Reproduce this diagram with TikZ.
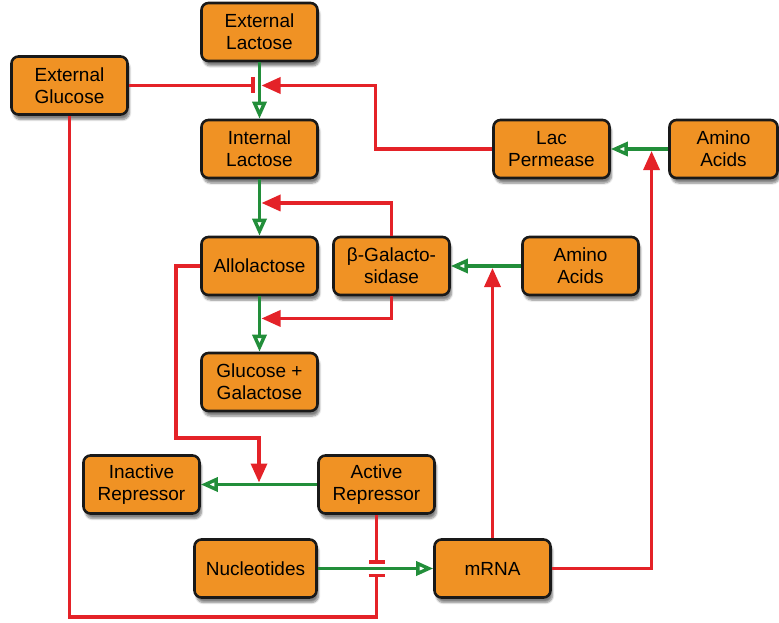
\documentclass[tikz,border=0pt]{standalone}
\usepackage{fontspec}
\setmainfont{Liberation Sans}
\usepackage{xcolor}
\usetikzlibrary{arrows.meta,calc,shadows.blur}
\definecolor{laco}{RGB}{240,146,36}
\definecolor{lacred}{RGB}{228,34,40}
\definecolor{lacgreen}{RGB}{34,142,58}

\begin{document}
\begin{tikzpicture}[x=1pt, y=-1pt, node distance=117pt, font=\fontsize{19}{22}\selectfont]
    \tikzstyle{box}=[draw=black!90, line width=2.6pt, rounded corners=7pt, fill=laco,
      align=center, minimum width=116pt, minimum height=58pt, inner sep=2pt,
      blur shadow={shadow xshift=2pt, shadow yshift=-5pt, shadow blur steps=6, shadow opacity=50}]
    \tikzstyle{conv}=[draw=lacgreen, line width=3.4pt, -{Triangle[open, length=17pt, width=14pt]}]
    \tikzstyle{act}=[draw=lacred, line width=3.4pt, shorten >=2pt, -{Triangle[length=19pt, width=16pt]}]
    \tikzstyle{inh}=[draw=lacred, line width=3.4pt, shorten >=5pt, -{Bar[width=16pt]}]
    \useasboundingbox (0,0) rectangle (779,623);

    \node[box] (elac) at (259.5,32) {External\\Lactose};
    \node[box, below of=elac] (ilac) {Internal\\Lactose};
    \node[box, below of=ilac] (allo) {Allolactose};
    \node[box, below of=allo, node distance=116pt] (glu) {Glucose +\\Galactose};
    \node[box] (eglu) at (69.5,85.5) {External\\Glucose};
    \node[box, right of=ilac, node distance=292pt] (perm) {Lac\\Permease};
    \node[box, right of=perm, node distance=172pt, minimum width=108pt] (amino1) {Amino\\Acids};
    \node[box, right of=allo, node distance=132pt] (bgal) {β-Galacto-\\sidase};
    \node[box, right of=bgal, node distance=189pt] (amino2) {Amino\\Acids};
    \node[box] (irep) at (141.5,484.5) {Inactive\\Repressor};
    \node[box, right of=irep, node distance=235pt] (arep) {Active\\Repressor};
    \node[box, minimum width=122pt] (nuc) at (255.5,568.5) {Nucleotides};
    \node[box, right of=nuc, node distance=237pt] (mrna) {mRNA};

    \coordinate (ptip) at (elac.south |- eglu.east);
    \coordinate (gtop) at ($(ilac.south)!.42!(allo.north)$);
    \coordinate (gbot) at ($(allo.south)!.4!(glu.north)$);
    \coordinate (rbend) at (176,438);
    \coordinate (rtip) at ($(irep.east)!.5!(arep.west)$);
    \coordinate (bar) at (arep.south |- nuc.east);
    \coordinate (low) at (0,617);
    \coordinate (mup) at ($(perm.east)!.71!(amino1.west)$);

    \draw[conv] (elac) -- (ilac);
    \draw[conv] (ilac) -- (allo);
    \draw[conv] (allo) -- (glu);
    \draw[conv] (amino1) -- (perm);
    \draw[conv] (amino2) -- (bgal);
    \draw[conv] (arep) -- (irep);
    \draw[conv] (nuc) -- (mrna);

    \draw[inh] (eglu.east) -- (ptip);
    \draw[act] (perm.west) -- ++(-117,0) |- (ptip);
    \draw[act] (bgal.north) |- (gtop);
    \draw[act] (bgal.south) |- (gbot);
    \draw[act] (allo.west) -| (rbend) -| (rtip);
    \draw[inh] (arep.south) -- (bar);
    \draw[inh] (eglu.south) |- (low -| bar) -- (bar);
    \draw[act] (mrna.north) -- (mrna.north |- amino2.west);
    \draw[act] (mrna.east) -| (mup);
  \end{tikzpicture}
\end{document}
